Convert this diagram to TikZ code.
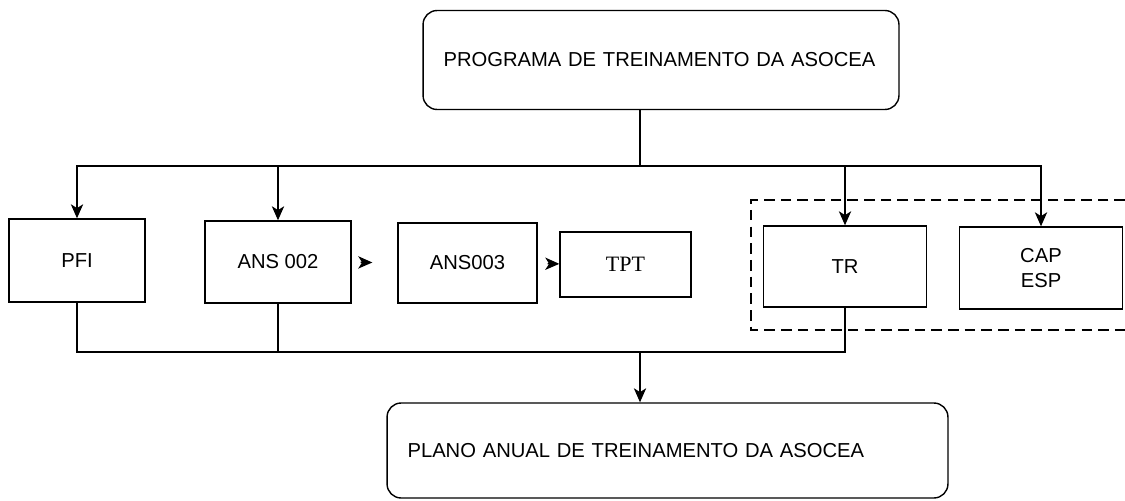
\documentclass[tikz,border=0pt]{standalone}
\usepackage{fontspec}
\setmainfont{Liberation Sans}
\newfontfamily\tptfont{Liberation Serif}
\usepackage{tikz}
\usetikzlibrary{arrows.meta,positioning}

\begin{document}
\begin{tikzpicture}[x=0.02cm,y=-0.02cm,
	box/.style={draw,line width=0.8pt,inner sep=2pt,font=\fontsize{11.5}{14}\selectfont,align=center},
	rbox/.style={box,rounded corners=8pt,align=left,inner xsep=0.41cm},
	tip/.style={-{Stealth[length=8pt,width=7pt,inset=2.2pt]},line width=0.8pt},
	wire/.style={line width=0.8pt},
	groupbox/.style={line width=1.1pt,dash pattern=on 6pt off 3.5pt}]
	% Fix the page size
	\useasboundingbox (0,0) rectangle (1125,500);
	% Draw nodes
	\node[rbox,minimum width=9.52cm,minimum height=1.98cm,text width=8.7cm] (prog) at (661,60) {PROGRAMA DE TREINAMENTO DA ASOCEA};
	\node[box,minimum width=2.72cm,minimum height=1.66cm] (pfi) at (77,260.5) {PFI};
	\node[box,minimum width=2.92cm,minimum height=1.64cm] (ans2) at (278,262) {ANS 002};
	\node[box,minimum width=2.78cm,minimum height=1.6cm] (ans3) at (467.5,263) {ANS003};
	\node[box,minimum width=2.62cm,minimum height=1.3cm,font=\tptfont\fontsize{12.5}{14}\selectfont] (tpt) at (625.5,264.5) {TPT};
	\node[box,minimum width=3.26cm,minimum height=1.62cm] (tr) at (845,266.5) {TR};
	\node[box,minimum width=3.26cm,minimum height=1.64cm] (cap) at (1041,268) {CAP\\ESP};
	\node[rbox,minimum width=11.22cm,minimum height=1.9cm,text width=10.4cm] (plano) at (667.5,450.5) {PLANO ANUAL DE TREINAMENTO DA ASOCEA};
	% Draw dashed group
	\draw[groupbox] (1125,200) -- (751,200) -- (751,330) -- (1125,330);
	% Draw top bus
	\coordinate (topbus) at (640,166);
	\draw[wire] (prog.south -| topbus) -- (topbus);
	\draw[tip] (topbus) -| (pfi);
	\draw[tip] (topbus) -| (ans2);
	\draw[tip] (topbus) -| (tr);
	\draw[tip] (topbus) -| (cap);
	% Draw chain arrows
	\draw[tip,shorten <=0.18cm,shorten >=0.5cm] (ans2) -- (ans3);
	\draw[tip,shorten <=0.2cm] (ans3) -- (tpt);
	% Draw bottom bus
	\coordinate (botbus) at (640,352);
	\draw[wire] (pfi) |- (botbus) -| (tr);
	\draw[wire] (ans2) -- (ans2 |- botbus);
	\draw[tip] (botbus) -- (botbus |- plano.north);
\end{tikzpicture}
\end{document}
